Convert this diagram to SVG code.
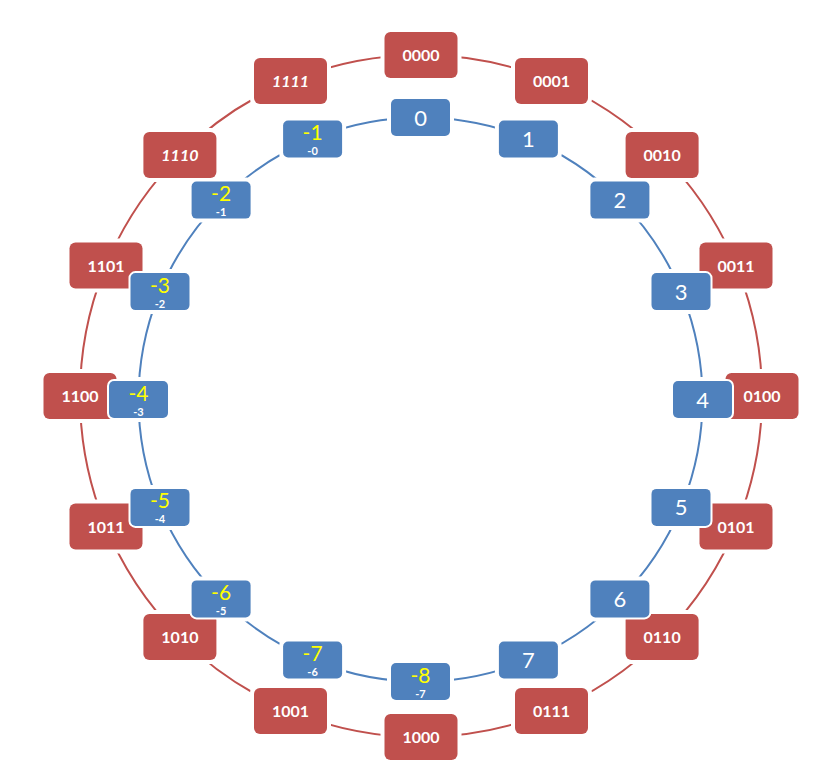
<svg xmlns="http://www.w3.org/2000/svg" width="831" height="773" viewBox="0 0 831 773">
<style>
.ring-r{fill:none;stroke:#C0504D;stroke-width:2}
.ring-b{fill:none;stroke:#4F81BD;stroke-width:2}
.halo{fill:#fff}
.rb{fill:#C0504D;stroke:#fff;stroke-width:3;paint-order:stroke}
.bb{fill:#4F81BD;stroke:#fff;stroke-width:4;paint-order:stroke}
.rt{font-family:Lato,"Liberation Sans",sans-serif;font-weight:bold;font-size:16px;fill:#fff;text-anchor:middle}
.it{font-style:italic}
.bt{font-family:Lato,"Liberation Sans",sans-serif;font-size:22px;fill:#fff;text-anchor:middle}
.yt{font-family:Lato,"Liberation Sans",sans-serif;font-size:21px;fill:#FFFF00;text-anchor:middle}
.st{font-family:Lato,"Liberation Sans",sans-serif;font-weight:bold;font-size:11px;fill:#fff;text-anchor:middle}
</style>
<defs>
<rect id="rh" x="-40.5" y="-27" width="81" height="54" rx="9"/>
<rect id="bh" x="-33.5" y="-22.5" width="67" height="45" rx="8"/>
</defs>
<g id="connectors">
<circle class="ring-r" cx="421" cy="396" r="341"/>
<circle class="ring-b" cx="420.5" cy="399.5" r="282"/>
</g>
<g id="halos" class="halo">
<use href="#rh" x="421" y="55"/><use href="#rh" x="551.5" y="81"/><use href="#rh" x="662.1" y="154.9"/><use href="#rh" x="736" y="265.5"/>
<use href="#rh" x="762" y="396"/><use href="#rh" x="736" y="526.5"/><use href="#rh" x="662.1" y="637.1"/><use href="#rh" x="551.5" y="711"/>
<use href="#rh" x="421" y="737"/><use href="#rh" x="290.5" y="711"/><use href="#rh" x="179.9" y="637.1"/><use href="#rh" x="106" y="526.5"/>
<use href="#rh" x="80" y="396"/><use href="#rh" x="106" y="265.5"/><use href="#rh" x="179.9" y="154.9"/><use href="#rh" x="290.5" y="81"/>
<use href="#bh" x="420.5" y="117.5"/><use href="#bh" x="528.4" y="139"/><use href="#bh" x="619.9" y="200.1"/><use href="#bh" x="681" y="291.6"/>
<use href="#bh" x="702.5" y="399.5"/><use href="#bh" x="681" y="507.4"/><use href="#bh" x="619.9" y="598.9"/><use href="#bh" x="528.4" y="660"/>
<use href="#bh" x="420.5" y="681.5"/><use href="#bh" x="312.6" y="660"/><use href="#bh" x="221.1" y="598.9"/><use href="#bh" x="160" y="507.4"/>
<use href="#bh" x="138.5" y="399.5"/><use href="#bh" x="160" y="291.6"/><use href="#bh" x="221.1" y="200.1"/><use href="#bh" x="312.6" y="139"/>
</g>
<g id="r0000" transform="translate(421,55)"><rect class="rb" x="-36.5" y="-23" width="73" height="46" rx="6"/><text class="rt" y="6">0000</text></g>
<g id="r0001" transform="translate(551.5,81)"><rect class="rb" x="-36.5" y="-23" width="73" height="46" rx="6"/><text class="rt" y="6">0001</text></g>
<g id="r0010" transform="translate(662.1,154.9)"><rect class="rb" x="-36.5" y="-23" width="73" height="46" rx="6"/><text class="rt" y="6">0010</text></g>
<g id="r0011" transform="translate(736,265.5)"><rect class="rb" x="-36.5" y="-23" width="73" height="46" rx="6"/><text class="rt" y="6">0011</text></g>
<g id="r0100" transform="translate(762,396)"><rect class="rb" x="-36.5" y="-23" width="73" height="46" rx="6"/><text class="rt" y="6">0100</text></g>
<g id="r0101" transform="translate(736,526.5)"><rect class="rb" x="-36.5" y="-23" width="73" height="46" rx="6"/><text class="rt" y="6">0101</text></g>
<g id="r0110" transform="translate(662.1,637.1)"><rect class="rb" x="-36.5" y="-23" width="73" height="46" rx="6"/><text class="rt" y="6">0110</text></g>
<g id="r0111" transform="translate(551.5,711)"><rect class="rb" x="-36.5" y="-23" width="73" height="46" rx="6"/><text class="rt" y="6">0111</text></g>
<g id="r1000" transform="translate(421,737)"><rect class="rb" x="-36.5" y="-23" width="73" height="46" rx="6"/><text class="rt" y="6">1000</text></g>
<g id="r1001" transform="translate(290.5,711)"><rect class="rb" x="-36.5" y="-23" width="73" height="46" rx="6"/><text class="rt" y="6">1001</text></g>
<g id="r1010" transform="translate(179.9,637.1)"><rect class="rb" x="-36.5" y="-23" width="73" height="46" rx="6"/><text class="rt" y="6">1010</text></g>
<g id="r1011" transform="translate(106,526.5)"><rect class="rb" x="-36.5" y="-23" width="73" height="46" rx="6"/><text class="rt" y="6">1011</text></g>
<g id="r1100" transform="translate(80,396)"><rect class="rb" x="-36.5" y="-23" width="73" height="46" rx="6"/><text class="rt" y="6">1100</text></g>
<g id="r1101" transform="translate(106,265.5)"><rect class="rb" x="-36.5" y="-23" width="73" height="46" rx="6"/><text class="rt" y="6">1101</text></g>
<g id="r1110" transform="translate(179.9,154.9)"><rect class="rb" x="-36.5" y="-23" width="73" height="46" rx="6"/><text class="rt it" y="6">1110</text></g>
<g id="r1111" transform="translate(290.5,81)"><rect class="rb" x="-36.5" y="-23" width="73" height="46" rx="6"/><text class="rt it" y="6">1111</text></g>
<g id="b0" transform="translate(420.5,117.5)"><rect class="bb" x="-29.5" y="-18.5" width="59" height="37" rx="5"/><text class="bt" y="8">0</text></g>
<g id="b1" transform="translate(528.4,139)"><rect class="bb" x="-29.5" y="-18.5" width="59" height="37" rx="5"/><text class="bt" y="8">1</text></g>
<g id="b2" transform="translate(619.9,200.1)"><rect class="bb" x="-29.5" y="-18.5" width="59" height="37" rx="5"/><text class="bt" y="8">2</text></g>
<g id="b3" transform="translate(681,291.6)"><rect class="bb" x="-29.5" y="-18.5" width="59" height="37" rx="5"/><text class="bt" y="8">3</text></g>
<g id="b4" transform="translate(702.5,399.5)"><rect class="bb" x="-29.5" y="-18.5" width="59" height="37" rx="5"/><text class="bt" y="8">4</text></g>
<g id="b5" transform="translate(681,507.4)"><rect class="bb" x="-29.5" y="-18.5" width="59" height="37" rx="5"/><text class="bt" y="8">5</text></g>
<g id="b6" transform="translate(619.9,598.9)"><rect class="bb" x="-29.5" y="-18.5" width="59" height="37" rx="5"/><text class="bt" y="8">6</text></g>
<g id="b7" transform="translate(528.4,660)"><rect class="bb" x="-29.5" y="-18.5" width="59" height="37" rx="5"/><text class="bt" y="8">7</text></g>
<g id="bm8" transform="translate(420.5,681.5)"><rect class="bb" x="-29.5" y="-18.5" width="59" height="37" rx="5"/><text class="yt" y="1">-8</text><text class="st" y="16">-7</text></g>
<g id="bm7" transform="translate(312.6,660)"><rect class="bb" x="-29.5" y="-18.5" width="59" height="37" rx="5"/><text class="yt" y="1">-7</text><text class="st" y="16">-6</text></g>
<g id="bm6" transform="translate(221.1,598.9)"><rect class="bb" x="-29.5" y="-18.5" width="59" height="37" rx="5"/><text class="yt" y="1">-6</text><text class="st" y="16">-5</text></g>
<g id="bm5" transform="translate(160,507.4)"><rect class="bb" x="-29.5" y="-18.5" width="59" height="37" rx="5"/><text class="yt" y="1">-5</text><text class="st" y="16">-4</text></g>
<g id="bm4" transform="translate(138.5,399.5)"><rect class="bb" x="-29.5" y="-18.5" width="59" height="37" rx="5"/><text class="yt" y="1">-4</text><text class="st" y="16">-3</text></g>
<g id="bm3" transform="translate(160,291.6)"><rect class="bb" x="-29.5" y="-18.5" width="59" height="37" rx="5"/><text class="yt" y="1">-3</text><text class="st" y="16">-2</text></g>
<g id="bm2" transform="translate(221.1,200.1)"><rect class="bb" x="-29.5" y="-18.5" width="59" height="37" rx="5"/><text class="yt" y="1">-2</text><text class="st" y="16">-1</text></g>
<g id="bm1" transform="translate(312.6,139)"><rect class="bb" x="-29.5" y="-18.5" width="59" height="37" rx="5"/><text class="yt" y="1">-1</text><text class="st" y="16">-0</text></g>
</svg>
